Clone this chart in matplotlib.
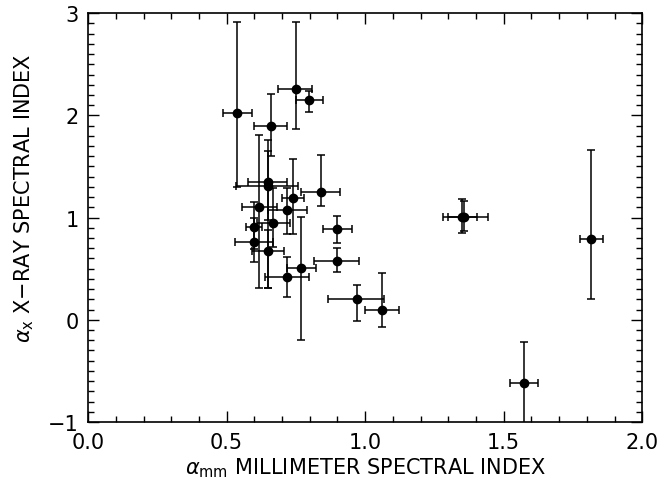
import matplotlib
matplotlib.use("Agg")
import matplotlib.pyplot as plt
import numpy as np
from matplotlib.ticker import MultipleLocator

# alpha_mm (millimeter spectral index) with lower/upper bounds of the error bars
alpha_mm = [0.538, 0.751, 0.798, 0.661, 0.841, 0.650, 0.650, 0.617, 0.718, 0.740,
            0.668, 0.599, 0.599, 0.650, 0.769, 0.718, 0.899, 0.899, 0.971, 1.061,
            1.350, 1.357, 1.816, 1.574]
mm_lo = [0.487, 0.686, 0.751, 0.599, 0.769, 0.578, 0.534, 0.556, 0.650, 0.700,
         0.610, 0.570, 0.531, 0.592, 0.718, 0.639, 0.848, 0.816, 0.866, 1.000,
         1.282, 1.300, 1.776, 1.523]
mm_hi = [0.592, 0.809, 0.848, 0.718, 0.910, 0.718, 0.758, 0.682, 0.791, 0.780,
         0.729, 0.628, 0.668, 0.708, 0.823, 0.798, 0.953, 0.978, 1.069, 1.123,
         1.444, 1.404, 1.859, 1.625]

# alpha_x (X-ray spectral index) with lower/upper bounds of the error bars
alpha_x = [2.02, 2.26, 2.15, 1.90, 1.25, 1.35, 1.31, 1.10, 1.07, 1.19,
           0.95, 0.91, 0.76, 0.67, 0.51, 0.42, 0.89, 0.58, 0.20, 0.10,
           1.01, 1.01, 0.79, -0.62]
x_lo = [1.30, 1.87, 2.03, 1.60, 1.11, 0.31, 0.98, 0.31, 0.84, 0.84,
        0.71, 0.69, 0.57, 0.31, -0.20, 0.22, 0.75, 0.47, -0.01, -0.07,
        0.85, 0.87, 0.20, -1.20]
x_hi = [2.91, 2.91, 2.24, 2.21, 1.61, 1.76, 1.65, 1.81, 1.29, 1.57,
        1.29, 1.15, 1.00, 0.88, 1.01, 0.61, 1.02, 0.70, 0.34, 0.46,
        1.18, 1.16, 1.66, -0.22]

xm = np.array(alpha_mm)
ym = np.array(alpha_x)
xerr = [xm - np.array(mm_lo), np.array(mm_hi) - xm]
yerr = [ym - np.array(x_lo), np.array(x_hi) - ym]

plt.rcParams['font.family'] = ['DejaVu Sans']

fig = plt.figure(figsize=(6.58, 4.89), dpi=100)
ax = fig.add_axes([0.134, 0.135, 0.842, 0.836])

ax.errorbar(xm, ym, xerr=xerr, yerr=yerr, fmt='o', color='black',
            ms=6, elinewidth=1.1, capsize=3, capthick=1.1, clip_on=True)

ax.set_xlim(0.0, 2.0)
ax.set_ylim(-1.0, 3.0)
ax.xaxis.set_major_locator(MultipleLocator(0.5))
ax.xaxis.set_minor_locator(MultipleLocator(0.1))
ax.yaxis.set_major_locator(MultipleLocator(1))
ax.yaxis.set_minor_locator(MultipleLocator(0.1))
ax.xaxis.set_major_formatter(plt.FuncFormatter(lambda v, p: f"{v:.1f}"))
ax.yaxis.set_major_formatter(plt.FuncFormatter(lambda v, p: f"{int(round(v))}".replace('-', '\u2212')))

ax.tick_params(which='both', direction='in', top=True, right=True, width=1.0)
ax.tick_params(which='major', length=8, labelsize=15, pad=7)
ax.tick_params(which='minor', length=4)
for s in ax.spines.values():
    s.set_linewidth(1.2)

ax.set_xlabel(r'$\alpha_{\rm mm}$ MILLIMETER SPECTRAL INDEX', fontsize=15, labelpad=3)
ax.set_ylabel('$\\alpha_{\\rm x}$ X\u2212RAY SPECTRAL INDEX', fontsize=15, labelpad=8)
ax.yaxis.set_label_coords(-0.095, 0.55)

fig.savefig('out.png', dpi=100)
